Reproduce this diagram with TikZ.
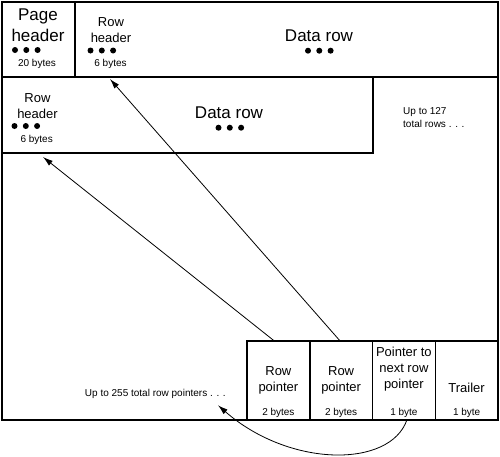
\documentclass[tikz,border=0pt]{standalone}
\usepackage{fontspec}
\setmainfont{Liberation Sans}
\usetikzlibrary{arrows.meta}

\tikzset{
  box/.style={draw, line width=1.5pt, inner sep=0pt, outer sep=0pt, anchor=north west},
  cell/.style={inner sep=0pt, outer sep=0pt, anchor=north west},
  big/.style={font=\fontsize{17}{21}\selectfont, align=center, inner sep=0pt},
  mid/.style={font=\fontsize{13}{16}\selectfont, align=center, inner sep=0pt},
  small/.style={font=\fontsize{10}{13}\selectfont, align=left, inner sep=0pt},
  ptr/.style={-{Latex[length=10pt,width=6pt]}, line width=0.8pt},
}
% three dots under a header
\newcommand{\dotrow}[2]{\foreach \i in {0,1,2} \fill ({#1+11.3*\i},#2) circle (3pt);}

\begin{document}
\begin{tikzpicture}[x=1pt, y=-1pt]
\useasboundingbox (0,0) rectangle (500,456);

% page and rows
\node[box, minimum width=496pt, minimum height=418pt] (page) at (2,2) {};
\node[box, minimum width=73pt, minimum height=75pt] (pghdr) at (2,2) {};
\node[box, minimum width=423pt, minimum height=75pt] (rowA) at (75,2) {};
\node[box, minimum width=371pt, minimum height=76pt] (rowB) at (2,77) {};
\node[cell, minimum width=73pt, minimum height=75pt] (rowhdrA) at (75,2) {};
\node[cell, minimum width=73pt, minimum height=76pt] (rowhdrB) at (2,77) {};

% page header
\node[big] (pghdrtxt) at (38,25.5) {Page\\header};
\dotrow{15}{50}
\node[small] (pghdrsize) at (37,64.4) {20 bytes};

% first row
\node[mid] (rowhdrAtxt) at (111,30.3) {Row\\header};
\dotrow{90.5}{50.5}
\node[small] (rowhdrAsize) at (110.5,64.4) {6 bytes};
\node[big] (datarowAtxt) at (319,36.2) {Data row};
\dotrow{308}{50.7}

% second row
\node[mid] (rowhdrBtxt) at (37.5,106.5) {Row\\header};
\dotrow{14.5}{126}
\node[small] (rowhdrBsize) at (36.7,140.4) {6 bytes};
\node[big] (datarowBtxt) at (229,113) {Data row};
\dotrow{218.5}{127.7}

\node[small, anchor=west] (morerows) at (403,117.5) {Up to 127\\total rows . . .};
\node[small, anchor=east] (moreptrs) at (226,394.4) {Up to 255 total row pointers . . .};

% row offset table
\node[box, minimum width=62.75pt, minimum height=79pt] (ptrA) at (247,341) {};
\node[box, minimum width=62.75pt, minimum height=79pt] (ptrB) at (ptrA.north east) {};
\node[box, minimum width=62.75pt, minimum height=79pt] (ptrnext) at (ptrB.north east) {};
\node[box, minimum width=62.75pt, minimum height=79pt] (trailer) at (ptrnext.north east) {};

\node[mid] (ptrAtxt) at ([yshift=-39.7pt]ptrA.north) {Row\\pointer};
\node[small] (ptrAsize) at ([yshift=7pt]ptrA.south) {2 bytes};
\node[mid] (ptrBtxt) at ([yshift=-39.7pt]ptrB.north) {Row\\pointer};
\node[small] (ptrBsize) at ([yshift=7pt]ptrB.south) {2 bytes};
\node[mid] (ptrnexttxt) at ([yshift=-28.2pt]ptrnext.north) {Pointer to\\next row\\pointer};
\node[small] (ptrnextsize) at ([yshift=7pt]ptrnext.south) {1 byte};
\node[mid] (trailertxt) at ([yshift=-47pt]trailer.north) {Trailer};
\node[small] (trailersize) at ([yshift=7pt]trailer.south) {1 byte};

% pointers
\draw[ptr] ([xshift=-4pt]ptrA.north) -- ([xshift=4.5pt,yshift=-4pt]rowhdrB.south);
\draw[ptr] ([xshift=-1pt]ptrB.north) -- ([xshift=-1.5pt,yshift=-2pt]rowhdrA.south);
\draw[ptr] ([xshift=3pt]ptrnext.south) .. controls (390,468) and (290,468) .. ([xshift=-8pt,yshift=-6pt]moreptrs.south east);
\end{tikzpicture}
\end{document}
